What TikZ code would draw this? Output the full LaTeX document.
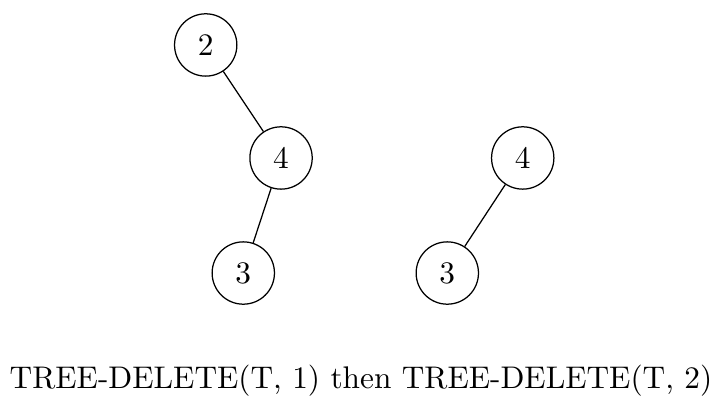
\documentclass[tikz,border=0pt]{standalone}
\usepackage{amsmath}
\usepackage{tikz}

\tikzset{
	keynode/.style={draw, circle, minimum size=0.7cm, inner sep=0pt}
}

\begin{document}
\begin{tikzpicture}
		% Fix the page size
		\useasboundingbox (0,0) rectangle (8.074,-4.559);
	
		% Tree after deleting 1
		\node[keynode] (k2) at (2.31,-0.505) {$2$};
		\node[keynode] (k4) at (3.156,-1.774) {$4$};
		\node[keynode] (k3) at (2.732,-3.066) {$3$};
		\draw (k2) -- (k4);
		\draw (k4) -- (k3);
	
		% Tree after deleting 2
		\node[keynode] (r4) at (5.870,-1.774) {$4$};
		\node[keynode] (r3) at (5.023,-3.066) {$3$};
		\draw (r4) -- (r3);
	
		% Caption
		\node (cap) at (4.054,-4.28) {TREE-DELETE(T, 1) then TREE-DELETE(T, 2)};
	
	\end{tikzpicture}
\end{document}
